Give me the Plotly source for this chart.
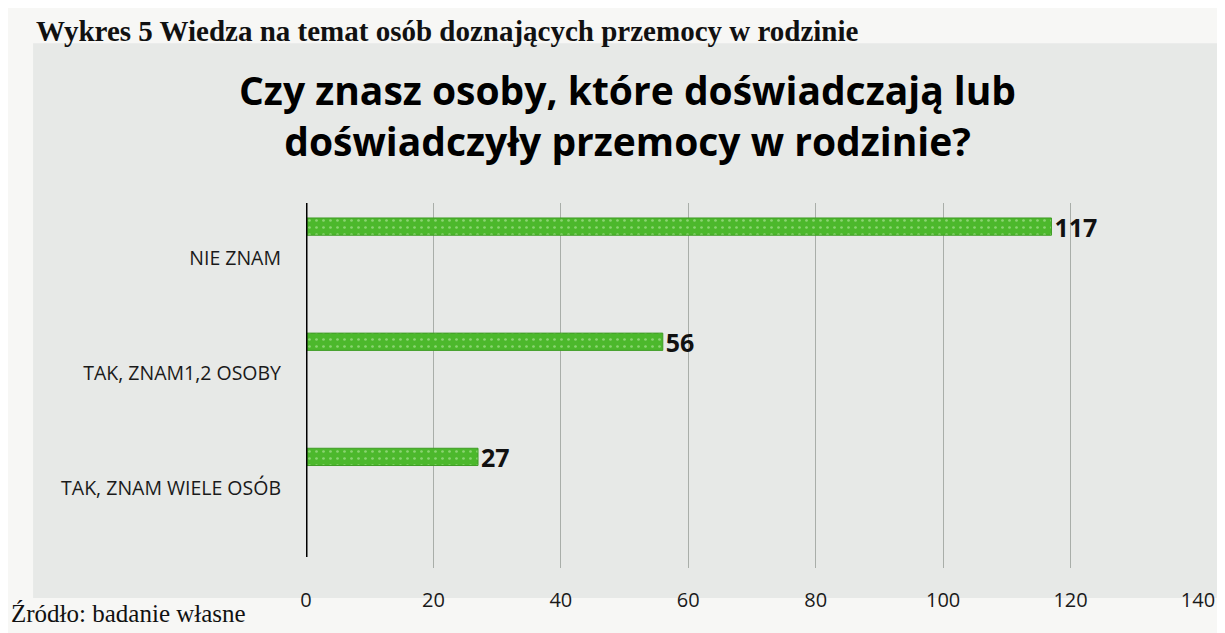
import plotly.graph_objects as go

# Data (bottom-to-top order for the categorical axis)
categories = ["TAK, ZNAM WIELE OSÓB", "TAK, ZNAM1,2 OSOBY", "NIE ZNAM"]
values = [27, 56, 117]
x_ticks = [0, 20, 40, 60, 80, 100, 120, 140]

header = "Wykres 5 Wiedza na temat osób doznających przemocy w rodzinie"
title = "Czy znasz osoby, które doświadczają lub<br>doświadczyły przemocy w rodzinie?"
source = "Źródło: badanie własne"

fig = go.Figure()
fig.add_trace(go.Bar(
    y=categories, x=values, orientation="h",
    width=0.15, offset=0.2,
    marker=dict(color="#4cb82c", line=dict(color="#3f9c25", width=1),
                pattern=dict(shape=".", fgcolor="#c9efb8", size=7, solidity=0.12)),
    text=[str(v) for v in values], textposition="outside", constraintext="none",
    textfont=dict(family="Open Sans", size=25, color="#111111", weight="bold"),
    cliponaxis=False, showlegend=False,
))

fig.update_layout(
    width=1225, height=633,
    margin=dict(l=298, r=35, t=195, b=73),
    paper_bgcolor="#f7f7f5",
    plot_bgcolor="rgba(0,0,0,0)",
    font=dict(family="Open Sans", color="#1a1a1a"),
    xaxis=dict(range=[0, 140], tickvals=x_ticks, showgrid=True,
               gridcolor="#a9aea9", gridwidth=1, zeroline=False,
               showline=False, ticks="", ticklabelstandoff=18,
               tickfont=dict(size=20, color="#1a1a1a")),
    yaxis=dict(range=[-0.69, 2.48], showgrid=False, zeroline=False,
               showline=False, ticks="", ticklabelstandoff=24,
               tickfont=dict(size=19.5, color="#1a1a1a")),
    shapes=[
        dict(type="rect", xref="paper", yref="paper", layer="below",
             x0=-0.306, x1=1.04, y0=-0.082, y1=1.438,
             fillcolor="#e7e9e7", line=dict(width=0)),
        dict(type="line", xref="x", yref="paper", x0=0, x1=0, y0=0.03, y1=1.0,
             line=dict(color="#000000", width=3)),
    ],
    annotations=[
        dict(text=title, xref="paper", yref="paper", x=0.36, y=1.39,
             xanchor="center", yanchor="top", showarrow=False, align="center",
             font=dict(family="Open Sans", size=39, color="#000000", weight="bold")),
        dict(text="<b>" + header + "</b>", xref="paper", yref="paper", x=-0.305, y=1.47,
             xanchor="left", yanchor="middle", showarrow=False,
             font=dict(family="Liberation Serif", size=29, color="#111111")),
        dict(text=source, xref="paper", yref="paper", x=-0.333, y=-0.125,
             xanchor="left", yanchor="middle", showarrow=False,
             font=dict(family="Liberation Serif", size=25, color="#111111")),
    ],
)

fig.write_html("out.html")
